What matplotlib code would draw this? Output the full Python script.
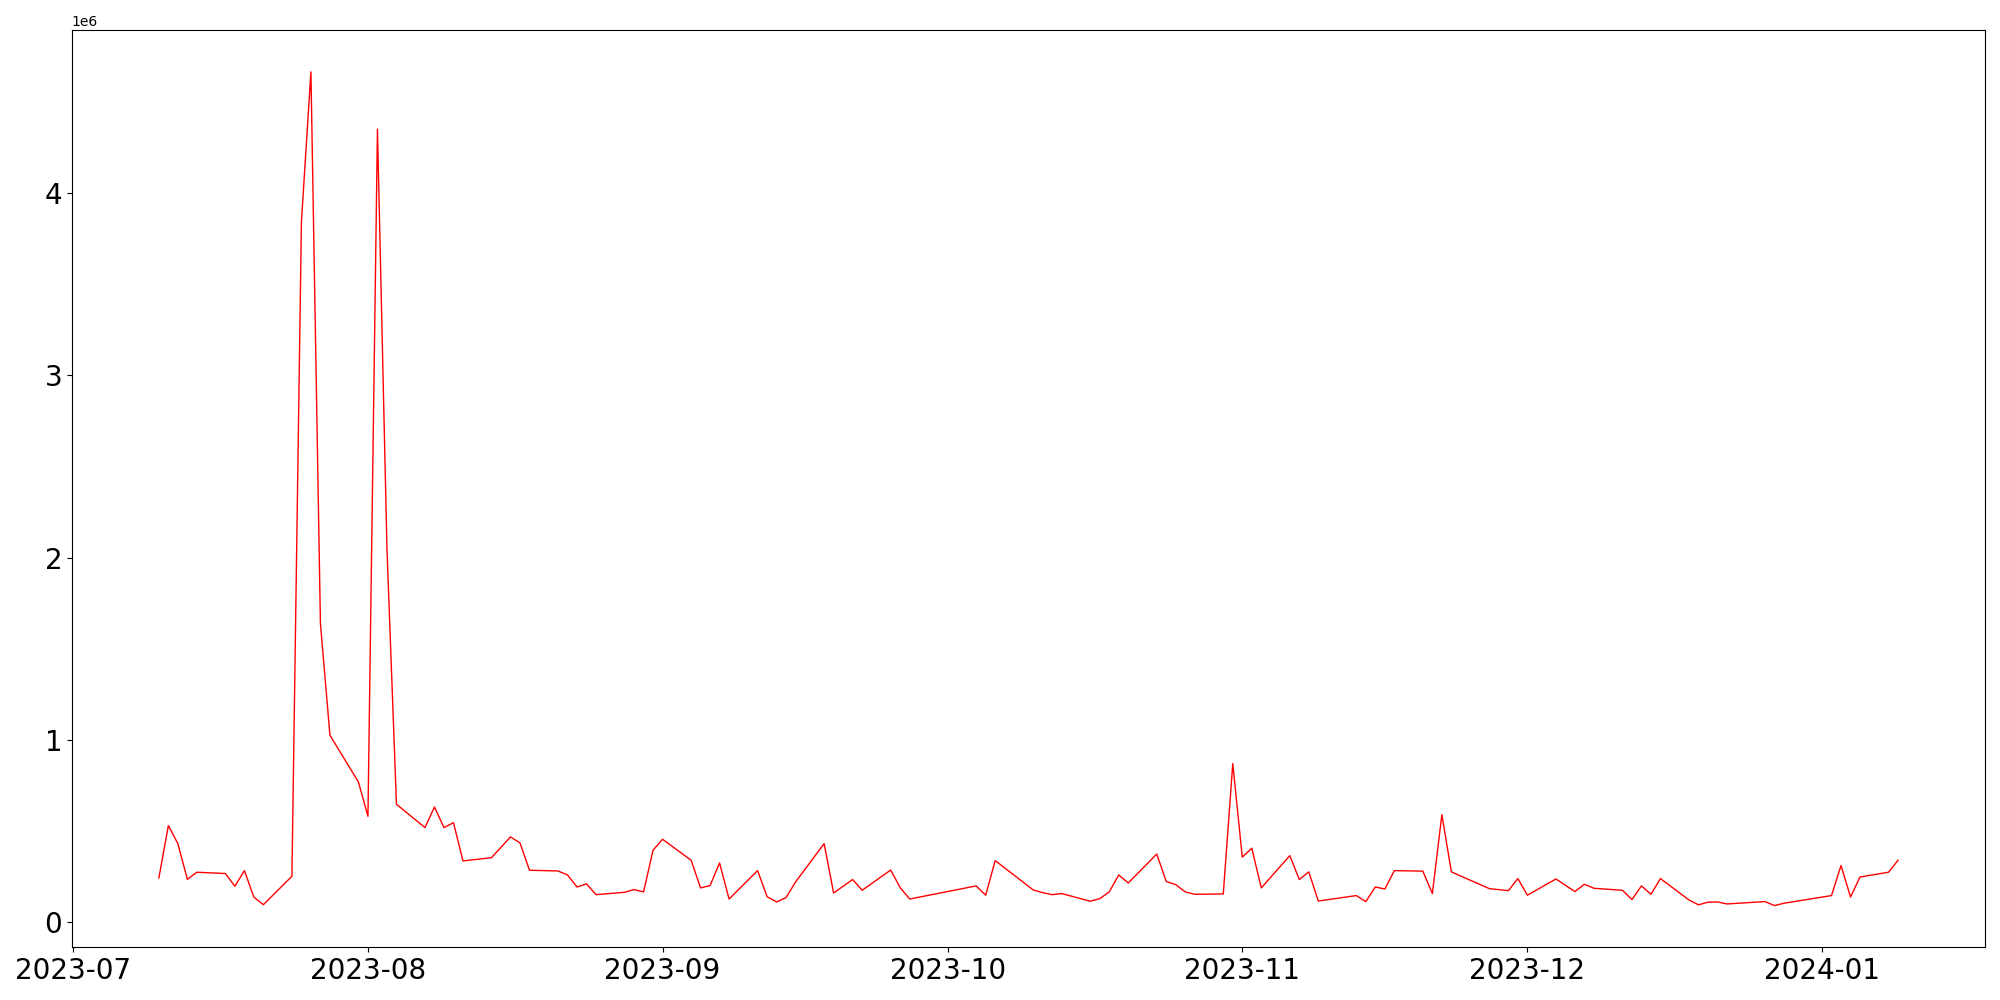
import matplotlib
matplotlib.use("Agg")
import matplotlib.pyplot as plt
import pandas as pd

# 일별 값 (1e6 단위로 읽은 값)
dates = [
    "2023-07-10", "2023-07-11", "2023-07-12", "2023-07-13", "2023-07-14",
    "2023-07-17", "2023-07-18", "2023-07-19", "2023-07-20", "2023-07-21",
    "2023-07-24", "2023-07-25", "2023-07-26", "2023-07-27", "2023-07-28",
    "2023-07-31", "2023-08-01", "2023-08-02", "2023-08-03", "2023-08-04",
    "2023-08-07", "2023-08-08", "2023-08-09", "2023-08-10", "2023-08-11",
    "2023-08-14", "2023-08-16", "2023-08-17", "2023-08-18",
    "2023-08-21", "2023-08-22", "2023-08-23", "2023-08-24", "2023-08-25",
    "2023-08-28", "2023-08-29", "2023-08-30", "2023-08-31", "2023-09-01",
    "2023-09-04", "2023-09-05", "2023-09-06", "2023-09-07", "2023-09-08",
    "2023-09-11", "2023-09-12", "2023-09-13", "2023-09-14", "2023-09-15",
    "2023-09-18", "2023-09-19", "2023-09-21", "2023-09-22",
    "2023-09-25", "2023-09-26", "2023-09-27",
    "2023-10-04", "2023-10-05", "2023-10-06",
    "2023-10-10", "2023-10-11", "2023-10-12", "2023-10-13",
    "2023-10-16", "2023-10-17", "2023-10-18", "2023-10-19", "2023-10-20",
    "2023-10-23", "2023-10-24", "2023-10-25", "2023-10-26", "2023-10-27",
    "2023-10-30", "2023-10-31", "2023-11-01", "2023-11-02", "2023-11-03",
    "2023-11-06", "2023-11-07", "2023-11-08", "2023-11-09",
    "2023-11-13", "2023-11-14", "2023-11-15", "2023-11-16", "2023-11-17",
    "2023-11-20", "2023-11-21", "2023-11-22", "2023-11-23",
    "2023-11-27", "2023-11-29", "2023-11-30", "2023-12-01",
    "2023-12-04", "2023-12-06", "2023-12-07", "2023-12-08",
    "2023-12-11", "2023-12-12", "2023-12-13", "2023-12-14", "2023-12-15",
    "2023-12-18", "2023-12-19", "2023-12-20", "2023-12-21", "2023-12-22",
    "2023-12-26", "2023-12-27", "2023-12-28",
    "2024-01-02", "2024-01-03", "2024-01-04", "2024-01-05",
    "2024-01-08", "2024-01-09",
]
values_m = [
    0.242, 0.529, 0.430, 0.234, 0.273,
    0.266, 0.196, 0.282, 0.136, 0.095,
    0.251, 3.842, 4.665, 1.638, 1.025,
    0.768, 0.580, 4.351, 2.050, 0.646,
    0.518, 0.631, 0.518, 0.545, 0.335,
    0.353, 0.467, 0.434, 0.284,
    0.280, 0.258, 0.192, 0.209, 0.150,
    0.163, 0.178, 0.165, 0.394, 0.454,
    0.339, 0.187, 0.200, 0.324, 0.126,
    0.282, 0.139, 0.110, 0.134, 0.220,
    0.430, 0.159, 0.233, 0.174,
    0.285, 0.189, 0.126,
    0.198, 0.147, 0.337,
    0.176, 0.161, 0.150, 0.156,
    0.114, 0.128, 0.165, 0.258, 0.214,
    0.373, 0.222, 0.205, 0.165, 0.152,
    0.154, 0.869, 0.356, 0.405, 0.187,
    0.364, 0.233, 0.275, 0.115,
    0.145, 0.112, 0.192, 0.181, 0.282,
    0.279, 0.156, 0.589, 0.275,
    0.183, 0.172, 0.238, 0.147,
    0.236, 0.167, 0.207, 0.185,
    0.174, 0.123, 0.198, 0.152, 0.238,
    0.121, 0.094, 0.109, 0.110, 0.099,
    0.112, 0.090, 0.103,
    0.145, 0.310, 0.137, 0.247,
    0.273, 0.339,
]

x = pd.to_datetime(dates)
y = [v * 1e6 for v in values_m]

fig, ax = plt.subplots(figsize=(20, 10))
ax.plot(x, y, color="red", linewidth=1)
plt.xticks(fontsize=20)
plt.yticks(fontsize=20)
fig.tight_layout()
fig.savefig("out.png", dpi=100)
